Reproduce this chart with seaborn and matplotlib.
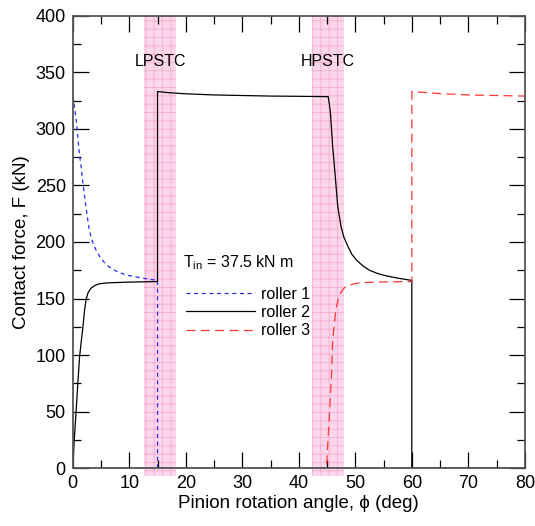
import matplotlib
matplotlib.use("Agg")
import matplotlib.pyplot as plt
import numpy as np
import pandas as pd
import seaborn as sns

# values
roller1_x = [0, 0.1, 0.35, 0.6, 0.85, 1.05, 1.25, 1.5, 1.7, 1.95, 2.2, 2.5, 2.75, 3.05, 3.5,
             4.1, 4.9, 5.9, 7.0, 8.2, 9.7, 11.2, 13.0, 15, 15, 80]
roller1_y = [329, 327, 318, 308, 296, 284, 275, 266, 256, 246, 236, 225, 216, 208, 200,
             193, 186, 180, 176, 173, 170.5, 169, 167.5, 166, 0, 0]

roller2_x = [0, 0.3, 0.6, 0.9, 1.2, 1.5, 1.8, 2.05, 2.35, 2.7, 3.2, 3.9, 4.7, 5.8, 7.1, 10, 15,
             15, 17, 20, 25, 30, 35, 40, 45.2, 45.4, 45.6, 45.8, 46.0, 46.25, 46.5, 46.7, 46.9,
             47.2, 47.5, 48.0, 48.7, 49.4, 50.2, 51.3, 52.5, 54.0, 55.5, 57.5, 60, 60, 80]
roller2_y = [0, 28, 51, 75, 98, 112, 125, 138, 149, 155, 159, 161.5, 163, 163.7, 164, 164.5, 165,
             333, 332, 331, 330, 329.5, 329, 328.8, 328.5, 322, 314, 299, 284, 270, 255, 243, 231,
             222, 213, 204, 196, 189, 184, 179, 175, 172, 170, 168, 166, 0, 0]

roller3_x = [0, 44.9, 45.2, 45.5, 45.8, 46.0, 46.25, 46.5, 46.8, 47.2, 47.8, 48.4, 49.6, 50.8,
             55, 60, 60, 61.4, 65, 70, 80]
roller3_y = [0, 0, 28, 54, 84, 113, 126, 137, 146, 153, 158, 161, 162.8, 164,
             164.7, 165, 333, 332.5, 331.2, 330, 329]

# contact transition zones (deg)
zone_names = ["LPSTC", "HPSTC"]
zone_start = [12.6, 42.3]
zone_end = [18.3, 48.0]
torque_label = "T$_{\\mathrm{in}}$ = 37.5 kN m"

sns.set_style("ticks")
plt.rcParams["font.family"] = ["Liberation Sans", "DejaVu Sans"]
plt.rcParams["mathtext.fontset"] = "custom"
plt.rcParams["mathtext.rm"] = "Liberation Sans"
plt.rcParams["text.color"] = "black"
plt.rcParams["axes.labelcolor"] = "black"
plt.rcParams["xtick.labelcolor"] = "black"
plt.rcParams["ytick.labelcolor"] = "black"
plt.rcParams["lines.scale_dashes"] = False
plt.rcParams["hatch.color"] = "#f5adcf"
plt.rcParams["hatch.linewidth"] = 0.6

fig = plt.figure(figsize=(5.35, 5.26), dpi=100)
ax = fig.add_axes([0.136, 0.110, 0.845, 0.860])

# pink shaded transition zones
for name, x0, x1 in zip(zone_names, zone_start, zone_end):
    ax.axvspan(x0, x1, ymin=-0.018, ymax=1, facecolor="#fcd6ea", edgecolor="#f5adcf",
               hatch="++", lw=0, clip_on=False, zorder=0)
    ax.text((x0 + x1) / 2, 360, name, ha="center", va="center", fontsize=11.5)

series = [
    ("roller 1", roller1_x, roller1_y, "#2a2aff", (0, (2.9, 2.6))),
    ("roller 2", roller2_x, roller2_y, "black", "-"),
    ("roller 3", roller3_x, roller3_y, "#ff3535", (0, (6.5, 3.8))),
]
for name, xs, ys, color, ls in series:
    df = pd.DataFrame({"phi": xs, "F": ys})
    sns.lineplot(data=df, x="phi", y="F", estimator=None, sort=False, color=color,
                 linestyle=ls, lw=0.9, label=name, ax=ax, zorder=3)

ax.text(19.5, 182, torque_label, ha="left", va="center", fontsize=11.5)
ax.legend(loc="center left", bbox_to_anchor=(0.219, 0.344), frameon=False, fontsize=11.5,
          handlelength=4.3, handletextpad=0.4, labelspacing=0.2)

ax.set_xlim(0, 80)
ax.set_ylim(0, 400)
ax.set_xticks(np.arange(0, 81, 10))
ax.set_xticks(np.arange(0, 81, 5), minor=True)
ax.set_yticks(np.arange(0, 401, 50))
ax.set_yticks(np.arange(0, 401, 25), minor=True)
ax.tick_params(which="both", direction="in", top=True, right=True, labelsize=13, pad=5,
               color="black", width=0.9)
ax.tick_params(which="major", length=11.3)
ax.tick_params(which="minor", length=5.7)
for s in ax.spines.values():
    s.set_color("#555555")
    s.set_linewidth(1.3)
    s.set_zorder(4)

ax.set_xlabel("Pinion rotation angle, \u03d5 (deg)", fontsize=13.5, labelpad=2)
ax.set_ylabel("Contact force, F (kN)", fontsize=13.5, labelpad=4)

fig.savefig("out.png", dpi=100)
